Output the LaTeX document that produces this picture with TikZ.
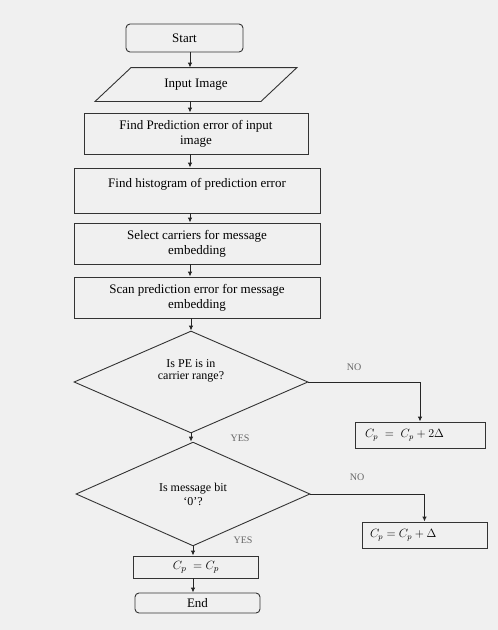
\documentclass[tikz,border=0pt]{standalone}
\usepackage{fontspec}
\setmainfont{Liberation Serif}
\usetikzlibrary{shapes.geometric,arrows.meta}
\begin{document}
\begin{tikzpicture}[
        x=1pt, y=-1pt,
        line width=0.9pt,
        every node/.style={font=\fontsize{13}{15}\selectfont},
        box/.style={rectangle,draw=black!80,align=center,inner sep=2pt},
        termbox/.style={box,rounded corners=4pt},
        decision/.style={diamond,draw=black!80,minimum width=234pt,align=center,font=\fontsize{12}{14}\selectfont},
        formula/.style={box,align=left,font=\fontsize{12}{14}\selectfont},
        lbl/.style={font=\fontsize{10}{12}\selectfont,text=black!60},
        arrow/.style={draw=black!85,-{Latex[length=5pt,width=4.5pt]}}
    ]
    \useasboundingbox[fill=black!6] (0,0) rectangle (498,630);
    \coordinate (spine) at (190,0);
    % main column
    \node[termbox,minimum width=117pt,minimum height=28pt] (start) at (184.5,38) {Start};
    \node[minimum width=165pt,minimum height=33pt] (input) at (196,84.5) {Input Image};
    \draw[draw=black!80] ([xshift=18pt]input.north west) -- ([xshift=18pt]input.north east)
        -- ([xshift=-18pt]input.south east) -- ([xshift=-18pt]input.south west) -- cycle;
    \node[box,minimum width=224pt,minimum height=41pt] (pe) at (196,133.5) {Find Prediction error of input\\image};
    \node[box,minimum width=246pt,minimum height=45pt] (hist) at (197,190.5) {Find histogram of prediction error\\~};
    \node[box,minimum width=246pt,minimum height=41pt] (carrier) at (197,243.5) {Select carriers for message\\embedding};
    \node[box,minimum width=246pt,minimum height=41pt] (scan) at (197,297.5) {Scan prediction error for message\\embedding};
    \node[decision,minimum height=102pt] (inrange) at (191,382) {\raisebox{3pt}[0pt][0pt]{\shortstack{Is PE is in\\carrier range?}}};
    \node[decision,minimum height=92pt] (bit) at (193,494) {Is message bit\\‘0’?};
    \node[box,minimum width=125pt,minimum height=22pt] (cpeq) at (196,567) {$C_p\;=C_p$};
    \node[termbox,minimum width=125pt,minimum height=20pt] (end) at (197.5,603) {End};
    % side boxes
    \node[formula,minimum width=130pt,minimum height=26pt,text width=110pt] (plus2) at (420,435) {$C_p\;=\;C_p+2\Delta$};
    \node[formula,minimum width=125pt,minimum height=26pt,text width=109pt] (plus1) at (424.5,535) {$C_p=C_p+\Delta$};
    % labels
    \node[lbl] (no1) at (354,367) {NO};
    \node[lbl] (yes1) at (240,438) {YES};
    \node[lbl] (no2) at (357,477) {NO};
    \node[lbl] (yes2) at (243,540) {YES};
    % connectors
    \draw[arrow] (spine |- start.south) -- (spine |- input.north);
    \draw[arrow] (spine |- input.south) -- (spine |- pe.north);
    \draw[arrow] (spine |- pe.south) -- (spine |- hist.north);
    \draw[arrow] (spine |- hist.south) -- (spine |- carrier.north);
    \draw[arrow] (spine |- carrier.south) -- (spine |- scan.north);
    \draw[arrow] (inrange.north |- scan.south) -- (inrange.north);
    \draw[arrow] (inrange.south) -- (inrange.south |- bit.north);
    \draw[arrow] (inrange.east) -| (plus2.north);
    \draw[arrow] (bit.east) -| (plus1.north);
    \draw[arrow] (bit.south) -- (bit.south |- cpeq.north);
    \draw[arrow] (bit.south |- cpeq.south) -- (bit.south |- end.north);
\end{tikzpicture}
\end{document}
